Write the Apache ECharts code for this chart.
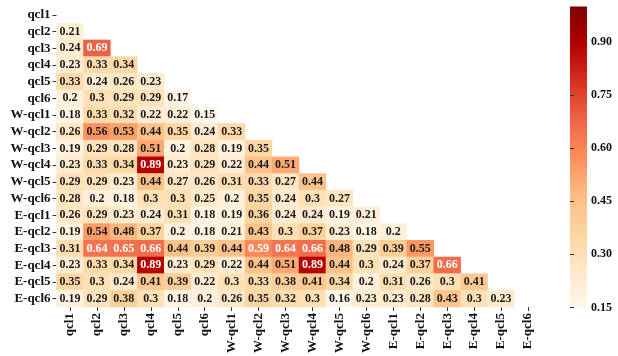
<!DOCTYPE html>
<html>
<head>
<meta charset="utf-8">
<script src="https://cdn.jsdelivr.net/npm/echarts@6/dist/echarts.min.js"></script>
<style>html,body{margin:0;padding:0;background:#fff}#c{width:618px;height:356px}</style>
</head>
<body>
<div id="c"></div>
<script>
const categories = ['qcl1','qcl2','qcl3','qcl4','qcl5','qcl6',
  'W-qcl1','W-qcl2','W-qcl3','W-qcl4','W-qcl5','W-qcl6',
  'E-qcl1','E-qcl2','E-qcl3','E-qcl4','E-qcl5','E-qcl6'];
// lower triangle rows (row i has i values, columns 0..i-1)
const rows = [
  [],
  [0.21],
  [0.24, 0.69],
  [0.23, 0.33, 0.34],
  [0.33, 0.24, 0.26, 0.23],
  [0.2, 0.3, 0.29, 0.29, 0.17],
  [0.18, 0.33, 0.32, 0.22, 0.22, 0.15],
  [0.26, 0.56, 0.53, 0.44, 0.35, 0.24, 0.33],
  [0.19, 0.29, 0.28, 0.51, 0.2, 0.28, 0.19, 0.35],
  [0.23, 0.33, 0.34, 0.89, 0.23, 0.29, 0.22, 0.44, 0.51],
  [0.29, 0.29, 0.23, 0.44, 0.27, 0.26, 0.31, 0.33, 0.27, 0.44],
  [0.28, 0.2, 0.18, 0.3, 0.3, 0.25, 0.2, 0.35, 0.24, 0.3, 0.27],
  [0.26, 0.29, 0.23, 0.24, 0.31, 0.18, 0.19, 0.36, 0.24, 0.24, 0.19, 0.21],
  [0.19, 0.54, 0.48, 0.37, 0.2, 0.18, 0.21, 0.43, 0.3, 0.37, 0.23, 0.18, 0.2],
  [0.31, 0.64, 0.65, 0.66, 0.44, 0.39, 0.44, 0.59, 0.64, 0.66, 0.48, 0.29, 0.39, 0.55],
  [0.23, 0.33, 0.34, 0.89, 0.23, 0.29, 0.22, 0.44, 0.51, 0.89, 0.44, 0.3, 0.24, 0.37, 0.66],
  [0.35, 0.3, 0.24, 0.41, 0.39, 0.22, 0.3, 0.33, 0.38, 0.41, 0.34, 0.2, 0.31, 0.26, 0.3, 0.41],
  [0.19, 0.29, 0.38, 0.3, 0.18, 0.2, 0.26, 0.35, 0.32, 0.3, 0.16, 0.23, 0.23, 0.28, 0.43, 0.3, 0.23]
];
const colorMin = 0.15, colorMax = 1.0, colorInterval = 0.15;
const orrd = ['#fff7ec','#fee8c8','#fdd49e','#fdbb84','#fc8d59','#ef6548','#d7301f','#b30000','#7f0000'];

const font = '"Liberation Serif", "Times New Roman", serif';
const data = [];
rows.forEach((r, i) => r.forEach((v, j) => {
  data.push({value: [j, i, v], label: {color: v > 0.57 ? '#ffffff' : '#1a1a1a'}});
}));
const stops = orrd.map((c, k) => ({offset: k / (orrd.length - 1), color: c}));

const chart = echarts.init(document.getElementById('c'), null, {renderer: 'canvas'});
chart.setOption({
  animation: false,
  backgroundColor: '#fff',
  grid: [
    {left: 56.5, width: 485, top: 6.5, height: 301},
    {left: 570, width: 17, top: 6.5, height: 301, show: true, borderWidth: 0,
     backgroundColor: new echarts.graphic.LinearGradient(0, 1, 0, 0, stops)}
  ],
  xAxis: [
    {type: 'category', data: categories, gridIndex: 0, position: 'bottom',
     axisLine: {show: false}, splitLine: {show: false},
     axisTick: {show: true, alignWithLabel: true, length: 4, lineStyle: {color: '#333'}},
     axisLabel: {rotate: 90, interval: 0, fontFamily: font, fontWeight: 'bold', fontSize: 13, color: '#111', margin: 6}},
    {type: 'value', gridIndex: 1, show: false, min: 0, max: 1}
  ],
  yAxis: [
    {type: 'category', data: categories, gridIndex: 0, inverse: true,
     axisLine: {show: false}, splitLine: {show: false},
     axisTick: {show: true, alignWithLabel: true, length: 4, lineStyle: {color: '#333'}},
     axisLabel: {interval: 0, fontFamily: font, fontWeight: 'bold', fontSize: 13, color: '#111', margin: 6}},
    {type: 'value', gridIndex: 1, position: 'right', min: colorMin, max: colorMax, interval: colorInterval,
     axisLine: {show: false}, splitLine: {show: false},
     axisTick: {show: true, length: 4, lineStyle: {color: '#333'}},
     axisLabel: {showMaxLabel: false, formatter: v => v.toFixed(2), fontFamily: font, fontWeight: 'bold', fontSize: 12, color: '#111', margin: 4}}
  ],
  visualMap: {
    type: 'continuous', seriesIndex: 0, min: colorMin, max: colorMax, show: false,
    inRange: {color: orrd}
  },
  series: [{
    type: 'heatmap', xAxisIndex: 0, yAxisIndex: 0, data: data,
    label: {show: true, formatter: p => String(p.value[2]), fontFamily: font, fontWeight: 'bold', fontSize: 12},
    itemStyle: {borderWidth: 0},
    emphasis: {disabled: true}
  }]
});
</script>
</body>
</html>
